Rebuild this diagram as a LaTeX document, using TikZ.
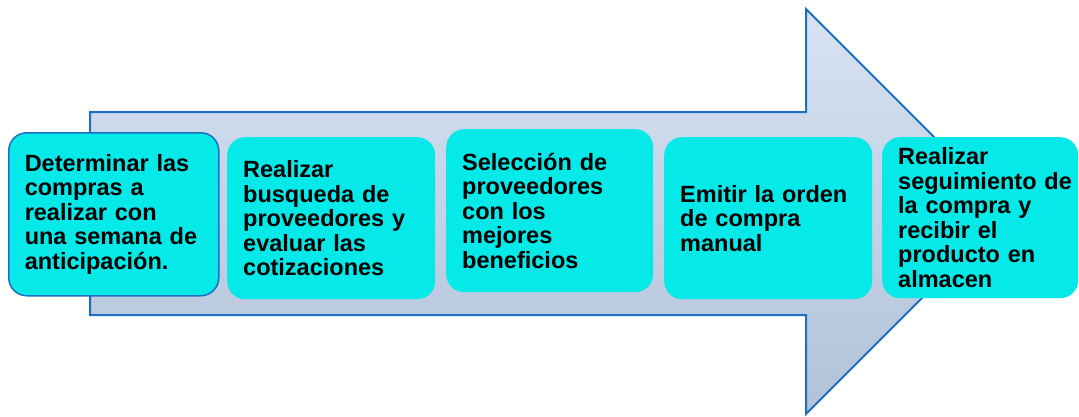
\documentclass[tikz,border=0pt]{standalone}
\usepackage{fontspec}
\setmainfont{Liberation Sans}
\definecolor{arrowline}{HTML}{1D6FC2}
\definecolor{arrowtop}{HTML}{D8E3F3}
\definecolor{arrowbot}{HTML}{B1C2D9}
\definecolor{boxfill}{HTML}{05E9E9}
\tikzset{
  stepbox/.style={rectangle, rounded corners=18pt, fill=boxfill, align=left,
    inner xsep=16pt, inner ysep=0pt, anchor=north west,
    font=\bfseries\fontsize{23.5}{24.5}\selectfont},
}
\begin{document}
\begin{tikzpicture}[x=1pt,y=-1pt]
\useasboundingbox (0,0) rectangle (1079,416);
\fill[white] (0,0) rectangle (1079,416);
\clip (0,0) rectangle (1079,416);
% big arrow
\path[draw=arrowline, line width=2pt, top color=arrowtop, bottom color=arrowbot, line join=miter]
  (90,112) -- (806,112) -- (806,9) -- (1008.5,211.5) -- (806,414) -- (806,315) -- (90,315) -- cycle;
% steps
\node[stepbox, draw=arrowline, line width=1.5pt, minimum width=210pt, minimum height=163pt, text width=178pt] (s1) at (8,132)
  {Determinar las\\compras a\\realizar con\\una semana de\\anticipación.};
\node[stepbox, minimum width=208pt, minimum height=162pt, text width=176pt] (s2) at (227,137)
  {Realizar\\busqueda de\\proveedores y\\evaluar las\\cotizaciones};
\node[stepbox, minimum width=207pt, minimum height=163pt, text width=175pt] (s3) at (446,129)
  {Selección de\\proveedores\\con los\\mejores\\beneficios};
\node[stepbox, minimum width=208pt, minimum height=162pt, text width=176pt] (s4) at (664,137)
  {Emitir la orden\\de compra\\manual};
\node[stepbox, minimum width=196pt, minimum height=161pt, text width=164pt] (s5) at (882,137)
  {Realizar\\\mbox{seguimiento de}\\la compra y\\recibir el\\producto en\\almacen};
\end{tikzpicture}
\end{document}
